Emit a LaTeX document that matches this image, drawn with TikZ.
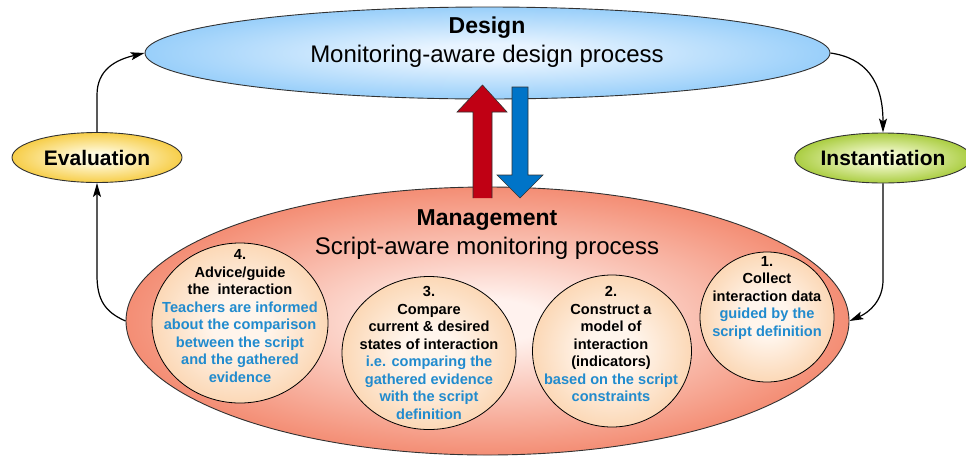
\documentclass[tikz,border=0pt]{standalone}
\usepackage{fontspec}
\setmainfont{Liberation Sans}
\usetikzlibrary{shapes.geometric,arrows.meta}
\definecolor{dsin}{RGB}{232,244,255}
\definecolor{dsout}{RGB}{125,194,248}
\definecolor{mgin}{RGB}{255,242,238}
\definecolor{mgout}{RGB}{240,108,76}
\definecolor{cin}{RGB}{255,245,236}
\definecolor{cout}{RGB}{250,204,160}
\definecolor{evin}{RGB}{255,250,222}
\definecolor{evout}{RGB}{244,190,20}
\definecolor{inin}{RGB}{244,250,210}
\definecolor{inout}{RGB}{145,190,15}
\definecolor{tblue}{RGB}{33,139,206}
\definecolor{ared}{RGB}{192,0,20}
\definecolor{ablue}{RGB}{0,116,200}
\definecolor{edge}{RGB}{50,50,50}
\pgfdeclareradialshading{designshade}{\pgfpoint{0bp}{0bp}}{color(0bp)=(dsin); color(5bp)=(dsin); color(32bp)=(dsout); color(50bp)=(dsout)}
\pgfdeclareradialshading{mgmtshade}{\pgfpoint{0bp}{0bp}}{color(0bp)=(mgin); color(4bp)=(mgin); color(32bp)=(mgout); color(50bp)=(mgout)}
\pgfdeclareradialshading{circshade}{\pgfpoint{0bp}{0bp}}{color(0bp)=(cin); color(8bp)=(cin); color(32bp)=(cout); color(50bp)=(cout)}
\pgfdeclareradialshading{evalshade}{\pgfpoint{0bp}{0bp}}{color(0bp)=(evin); color(5bp)=(evin); color(32bp)=(evout); color(50bp)=(evout)}
\pgfdeclareradialshading{instshade}{\pgfpoint{0bp}{0bp}}{color(0bp)=(inin); color(5bp)=(inin); color(32bp)=(inout); color(50bp)=(inout)}
\tikzset{
  bigell/.style={ellipse, draw=edge, line width=0.9pt, inner sep=0pt},
  smallell/.style={ellipse, draw=edge, line width=0.9pt, inner sep=0pt, font=\bfseries\fontsize{21}{24}\selectfont},
  circ/.style={ellipse, draw=black, line width=0.8pt, inner sep=0pt, shading=circshade},
  ctext/.style={align=center, inner sep=0pt, font=\bfseries\fontsize{14.6}{17.5}\selectfont},
  title/.style={inner sep=0pt, font=\bfseries\fontsize{23}{26}\selectfont},
  subtitle/.style={inner sep=0pt, font=\fontsize{24}{27}\selectfont},
  conn/.style={line width=1.2pt, -{Stealth[length=14pt,width=8pt,inset=3pt]}},
  blockarrow/.style={draw=edge, line width=0.6pt}
}
\begin{document}
\begin{tikzpicture}[x=1pt,y=-1pt]
\useasboundingbox[fill=white] (0,0) rectangle (966,456);
% big ellipses
\node[bigell, shading=mgmtshade, minimum width=723pt, minimum height=268pt] (mgmt) at (487.5,321) {};
\node[bigell, shading=designshade, minimum width=685pt, minimum height=92pt] (design) at (487.5,53) {};
% block arrows
\fill[ared] (473,198) -- (473,112) -- (457,112) -- (482.5,85) -- (507,112) -- (492,112) -- (492,198) -- cycle;
\draw[blockarrow] (473,198) -- (473,112) -- (457,112) -- (482.5,85) -- (507,112) -- (492,112) -- (492,198);
\fill[ablue] (512,87) -- (528,87) -- (528,175) -- (543,175) -- (520,198) -- (497,175) -- (512,175) -- cycle;
\draw[blockarrow] (512,87) -- (528,87) -- (528,175) -- (543,175) -- (520,198) -- (497,175) -- (512,175) -- cycle;
% titles
\node[title] (dtitle) at (487,28) {Design};
\node[subtitle] (dsub) at (487,56) {Monitoring-aware design process};
\node[title] (mtitle) at (487,220) {Management};
\node[subtitle] (msub) at (487,248) {Script-aware monitoring process};
% side ellipses
\node[smallell, shading=evalshade, minimum width=170pt, minimum height=50pt] (eval) at (97,157.5) {Evaluation};
\node[smallell, shading=instshade, minimum width=160pt, minimum height=50pt] (inst) at (883,158) {Instantiation};
% inner circles
\node[circ, minimum width=176pt, minimum height=160pt] (c4) at (240,323) {};
\node[circ, minimum width=174pt, minimum height=153pt] (c3) at (429,353) {};
\node[circ, minimum width=159pt, minimum height=152pt] (c2) at (612,351) {};
\node[circ, minimum width=134pt, minimum height=130pt] (c1) at (767,317) {};
\node[ctext] (t4) at (240,316) {4.\\Advice/guide\\the\ \ interaction\\\textcolor{tblue}{Teachers are informed}\\\textcolor{tblue}{about the comparison}\\\textcolor{tblue}{between the script}\\\textcolor{tblue}{and the gathered}\\\textcolor{tblue}{evidence}};
\node[ctext] (t3) at (429,353) {3.\\Compare\\current \& desired\\states of interaction\\\textcolor{tblue}{i.e. comparing the}\\\textcolor{tblue}{gathered evidence}\\\textcolor{tblue}{with the script}\\\textcolor{tblue}{definition}};
\node[ctext] (t2) at (611,344) {2.\\Construct a\\model of\\interaction\\(indicators)\\\textcolor{tblue}{based on the script}\\\textcolor{tblue}{constraints}};
\node[ctext] (t1) at (767,297.5) {1.\\Collect\\interaction data\\\textcolor{tblue}{guided by the}\\\textcolor{tblue}{script definition}};
% connectors
\draw[conn] (eval.north) -- (97,95) .. controls (97,70) and (115,60) .. (design.west);
\draw[conn] (design.east) .. controls (865,58) and (883,80) .. (inst.north);
\draw[conn] (inst.south) -- (883,280) .. controls (883,300) and (870,312) .. (mgmt.east);
\draw[conn] (mgmt.west) .. controls (105,312) and (97,300) .. (97,275) -- (eval.south);
\end{tikzpicture}
\end{document}
